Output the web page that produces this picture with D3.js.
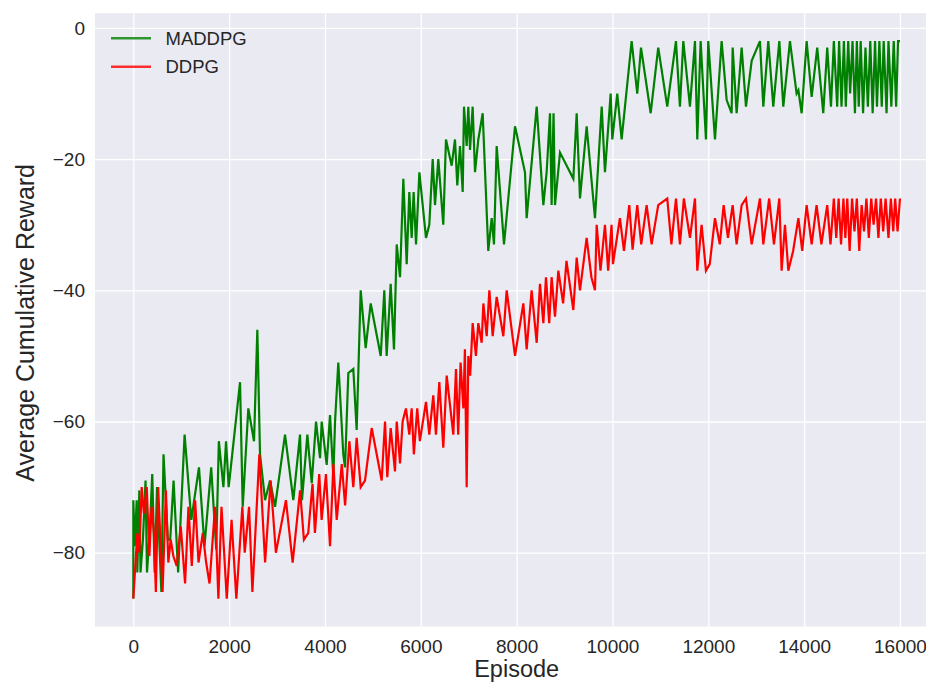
<!DOCTYPE html>
<html>
<head>
<meta charset="utf-8">
<script src="https://cdn.jsdelivr.net/npm/d3@7"></script>
<style>
  body { margin: 0; background: #fff; }
  svg { display: block; font-family: "Liberation Sans", Arial, sans-serif; }
</style>
</head>
<body>
<div id="chart"></div>
<script>
// data
const seriesNames = ["MADDPG", "DDPG"];
const seriesColors = ["#008000", "#ff0000"];
const xTicks = [0, 2000, 4000, 6000, 8000, 10000, 12000, 14000, 16000];
const yTicks = [0, -20, -40, -60, -80];

const maddpgEpisode = [0, 0, 30, 70, 83, 125, 150, 200, 255, 285, 340, 395, 445, 495, 585, 630, 720, 770, 840, 935,
  1070, 1210, 1370, 1485, 1625, 1730, 1785, 1880, 1935, 1990, 2227, 2283, 2400, 2519, 2588, 2644, 2749, 2853, 2957, 3166,
  3339, 3479, 3520, 3632, 3723, 3813, 3897, 3931, 4035, 4105, 4174, 4210, 4278, 4382, 4418, 4487, 4591, 4661, 4745, 4849,
  4954, 5163, 5238, 5287, 5371, 5440, 5497, 5566, 5635, 5705, 5760, 5809, 5850, 5900, 5970, 6108, 6177, 6248, 6296, 6365,
  6469, 6525, 6644, 6713, 6761, 6818, 6874, 6901, 6957, 6991, 7027, 7082, 7131, 7200, 7291, 7408, 7479, 7527, 7583, 7736,
  7966, 8174, 8209, 8418, 8557, 8626, 8696, 8730, 8770, 8800, 8905, 9183, 9253, 9322, 9461, 9635, 9775, 9843, 9962, 9996,
  10100, 10191, 10400, 10517, 10595, 10797, 10955, 11143, 11325, 11408, 11478, 11617, 11722, 11770, 11840, 11951, 11999, 12139, 12278, 12383,
  12487, 12508, 12591, 12696, 12786, 12905, 13078, 13148, 13252, 13356, 13482, 13565, 13704, 13843, 13880, 13948, 14052, 14157, 14273, 14399,
  14482, 14560, 14620, 14690, 14730, 14780, 14830, 14870, 14920, 14960, 15010, 15060, 15100, 15140, 15180, 15230, 15280, 15330, 15380, 15430,
  15480, 15520, 15570, 15620, 15660, 15720, 15760, 15820, 15870, 15920, 15960, 16000];
const maddpgReward = [-87, -72, -79, -72, -83, -70.5, -83, -78, -69, -83, -77, -68, -83, -70, -86, -65, -78, -78, -69, -83,
  -62, -75, -67, -79, -67, -79.5, -63, -70, -63, -70, -54, -73, -58, -63, -46, -65, -72, -69, -73, -62,
  -72, -62, -72, -62, -69.4, -60, -65.6, -60, -66.6, -59, -68.5, -60, -51, -65, -67, -52.6, -52, -61.3, -40, -48.8,
  -42, -50, -40, -50, -39, -49, -33, -38, -23, -36, -25, -32, -25, -33, -22, -32, -30, -20, -27, -20,
  -30, -17, -21, -17, -24, -18, -25, -12, -18, -12, -18.6, -12, -22, -17, -13, -34, -29, -33, -18, -33,
  -15, -22, -29, -12, -27, -22, -13, -27, -13, -27, -19, -23, -13, -26, -15, -29, -12, -22, -10, -17,
  -10, -17, -2, -10, -3, -13, -3, -12, -2, -12, -2, -12, -2, -17, -2, -17, -2, -17, -2, -11,
  -13, -3, -13, -3, -12, -5, -2, -12, -2, -12, -2, -12, -2, -10, -9.5, -13, -2, -10.5, -3, -13,
  -3, -12, -2, -12, -2, -12, -2, -12, -2, -10, -2, -13, -2, -12, -2, -13, -3, -12, -2, -13,
  -2, -12, -2, -12, -2, -13, -2, -12, -2, -12, -2, -2];

const ddpgEpisode = [0, 83, 125, 175, 220, 280, 335, 380, 430, 470, 518, 565, 610, 680, 730, 780, 835, 905, 990, 1080,
  1150, 1220, 1290, 1360, 1450, 1520, 1590, 1705, 1775, 1840, 1950, 2050, 2150, 2275, 2325, 2415, 2485, 2630, 2750, 2865,
  2975, 3185, 3325, 3480, 3560, 3650, 3740, 3790, 3880, 3930, 4020, 4105, 4175, 4245, 4350, 4420, 4508, 4591, 4661, 4745,
  4835, 4975, 5183, 5253, 5300, 5371, 5461, 5497, 5566, 5620, 5690, 5760, 5809, 5855, 5925, 5980, 6108, 6177, 6260, 6316,
  6386, 6469, 6540, 6678, 6734, 6780, 6830, 6888, 6920, 6940, 6957, 6991, 7030, 7082, 7150, 7200, 7270, 7305, 7375, 7430,
  7500, 7583, 7722, 7792, 7966, 8140, 8209, 8313, 8418, 8487, 8557, 8612, 8680, 8730, 8800, 8870, 8970, 9040, 9183, 9253,
  9322, 9461, 9560, 9635, 9670, 9750, 9843, 9910, 9980, 10010, 10155, 10240, 10350, 10420, 10517, 10600, 10713, 10817, 10955, 11143,
  11230, 11325, 11408, 11490, 11617, 11722, 11770, 11860, 11951, 12030, 12139, 12240, 12320, 12410, 12508, 12591, 12696, 12786, 12905, 13078,
  13148, 13270, 13370, 13482, 13530, 13600, 13670, 13770, 13880, 13960, 14052, 14157, 14260, 14360, 14482, 14550, 14620, 14670, 14720, 14770,
  14820, 14860, 14900, 14950, 15000, 15050, 15100, 15150, 15200, 15250, 15300, 15350, 15400, 15450, 15500, 15550, 15600, 15650, 15700, 15760,
  15810, 15860, 15900, 15950, 16000];
const ddpgReward = [-87, -77, -80, -70, -74, -70, -80.5, -73, -77, -86, -70, -78, -86, -70.5, -81.5, -78, -80.5, -82, -76, -84.7,
  -73, -82, -72, -81.5, -77, -81.5, -84.7, -73, -87, -73, -87, -75, -87, -73, -80, -73, -86, -65, -81.5, -69,
  -80, -72, -81.5, -70.5, -78, -77, -69.5, -77, -68, -75, -68, -79, -66.5, -75, -66.5, -72.8, -63, -70, -62.5, -70,
  -69, -61, -69, -60, -68.5, -61, -67.6, -60, -66.4, -60, -58, -62, -58, -65, -58, -63, -57, -62, -56, -62,
  -54, -64, -53, -62, -52, -62, -51, -58, -49, -60, -70, -50, -53, -45, -50, -45, -48, -42, -47, -40,
  -47, -41, -47, -40, -50, -42, -49, -40, -48, -39, -45, -38, -45, -38, -44, -37, -42, -35.5, -43, -35,
  -40, -32, -38, -40, -30, -37, -30, -37, -30, -36, -29, -34, -27, -33.8, -27, -33, -27, -33, -27, -26,
  -33, -26, -33, -26, -32, -26, -37, -30, -37, -36, -29, -33, -27, -32, -27, -33, -27, -26, -33, -26,
  -33, -26, -33, -26, -37, -30, -37, -34, -29, -34, -27, -33, -27, -33, -27, -33, -26, -32, -26, -33,
  -26, -32, -26, -34, -26, -31, -26, -34, -27, -31, -26, -32, -26, -30, -26, -32, -26, -31, -26, -32,
  -26, -31, -26, -31, -26];

const W = 926, H = 684;
const plot = { left: 95, right: 938.3, top: 13.2, bottom: 626.5 };
const textColor = "#262626";

const x = d3.scaleLinear().domain([-800, 16800]).range([plot.left, plot.right]);
const y = d3.scaleLinear().domain([-91.25, 2.25]).range([plot.bottom, plot.top]);

const svg = d3.select("#chart").append("svg")
  .attr("width", W)
  .attr("height", H);

svg.append("defs").append("clipPath").attr("id", "plotclip")
  .append("rect")
  .attr("x", plot.left).attr("y", plot.top)
  .attr("width", plot.right - plot.left).attr("height", plot.bottom - plot.top);

svg.append("rect")
  .attr("x", plot.left).attr("y", plot.top)
  .attr("width", plot.right - plot.left).attr("height", plot.bottom - plot.top)
  .attr("fill", "#eaeaf2");

// grid via axes, no domain line
const xAxis = svg.append("g")
  .attr("transform", `translate(0,${plot.bottom})`)
  .call(d3.axisBottom(x).tickValues(xTicks).tickSize(-(plot.bottom - plot.top)).tickPadding(8).tickFormat(d3.format("d")));
const yAxis = svg.append("g")
  .attr("transform", `translate(${plot.left},0)`)
  .call(d3.axisLeft(y).tickValues(yTicks).tickSize(-(plot.right - plot.left)).tickPadding(10).tickFormat(d3.format("d")));

[xAxis, yAxis].forEach(ax => {
  ax.select(".domain").remove();
  ax.selectAll(".tick line").attr("stroke", "#ffffff").attr("stroke-width", 1.3);
  ax.selectAll(".tick text")
    .attr("fill", textColor)
    .style("font-size", "19px")
    .style("font-family", "'Liberation Sans', Arial, sans-serif");
});
xAxis.selectAll(".tick text").attr("dy", "0.95em");

const line = d3.line()
  .x(d => x(d[0]))
  .y(d => y(d[1]));

const maddpgPoints = d3.zip(maddpgEpisode, maddpgReward);
const ddpgPoints = d3.zip(ddpgEpisode, ddpgReward);

const lines = svg.append("g").attr("clip-path", "url(#plotclip)");
[maddpgPoints, ddpgPoints].forEach((pts, i) => {
  lines.append("path")
    .datum(pts)
    .attr("fill", "none")
    .attr("stroke", seriesColors[i])
    .attr("stroke-width", 2.2)
    .attr("stroke-linejoin", "miter")
    .attr("d", line);
});

// legend
const legend = svg.append("g");
seriesNames.forEach((name, i) => {
  const ly = 38.3 + i * 28.4;
  legend.append("line")
    .attr("x1", 111).attr("x2", 151)
    .attr("y1", ly).attr("y2", ly)
    .attr("stroke", seriesColors[i])
    .attr("stroke-opacity", 0.8)
    .attr("stroke-width", 2.5);
  legend.append("text")
    .attr("x", 165.5).attr("y", ly)
    .attr("dy", "0.35em")
    .attr("fill", textColor)
    .style("font-size", "18.5px")
    .text(name);
});

// axis labels
svg.append("text")
  .attr("x", x(8000)).attr("y", 677)
  .attr("text-anchor", "middle")
  .attr("fill", textColor)
  .style("font-size", "23.5px")
  .text("Episode");

svg.append("text")
  .attr("transform", `translate(34,${(plot.top + plot.bottom) / 2 + 3}) rotate(-90)`)
  .attr("text-anchor", "middle")
  .attr("fill", textColor)
  .style("font-size", "25px")
  .text("Average Cumulative Reward");
</script>
</body>
</html>
